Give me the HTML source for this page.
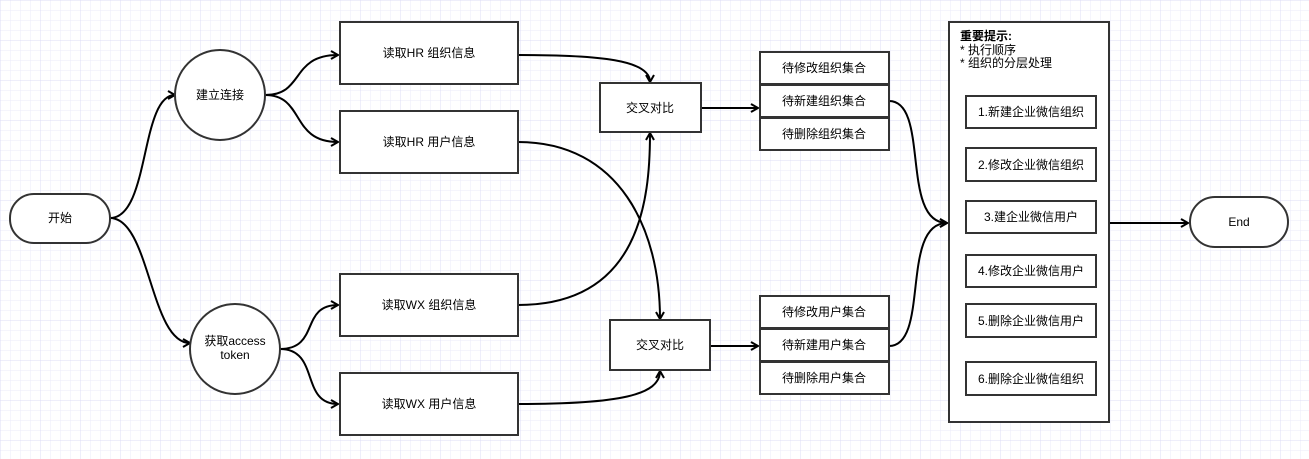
<!DOCTYPE html>
<html><head><meta charset="utf-8"><style>
html,body{margin:0;padding:0;background:#fff}
svg{display:block}
text{font-family:"Liberation Sans","Noto Sans CJK SC",sans-serif;font-size:12px;fill:#000}
</style></head><body>
<svg width="1309" height="459" viewBox="0 0 1309 459" xmlns="http://www.w3.org/2000/svg">
<defs>
<pattern id="g" width="10" height="10" patternUnits="userSpaceOnUse"><path d="M10 0H0V10" fill="none" stroke="#ebebfa" stroke-width="1"/></pattern>
<pattern id="G" width="40" height="40" patternUnits="userSpaceOnUse"><rect width="40" height="40" fill="url(#g)"/><path d="M40 0H0V40" fill="none" stroke="#dcdcf5" stroke-width="1"/></pattern>
<marker id="a" markerWidth="10" markerHeight="10" refX="8" refY="5" orient="auto" markerUnits="userSpaceOnUse"><path d="M1 1L8 5L1 9" fill="none" stroke="#000" stroke-width="2"/></marker>
</defs>
<rect width="1309" height="459" fill="url(#G)"/>
<g fill="none" stroke="#000" stroke-width="2" marker-end="url(#a)">
<path d="M110 218C150 218 140 95 175 95"/>
<path d="M110 218C150 218 150 343 190 343"/>
<path d="M265 95C305 95 290 55 338 55"/>
<path d="M265 95C305 95 290 142 338 142"/>
<path d="M280 349C320 349 300 305 338 305"/>
<path d="M280 349C320 349 300 404 338 404"/>
<path d="M518 55C600 55 650 60 650 82"/>
<path d="M518 142C620 142 660 230 660 319"/>
<path d="M518 305C640 305 650 200 650 133"/>
<path d="M518 404C620 404 660 395 660 371"/>
<path d="M701 108H758"/>
<path d="M710 346H758"/>
<path d="M889 101C930 101 900 223 947 223"/>
<path d="M889 346C930 346 900 223 947 223"/>
<path d="M1109 223H1188"/>
</g>
<g fill="#fff" stroke="#333" stroke-width="2">
<rect x="10" y="194" width="100" height="49" rx="24"/>
<circle cx="220" cy="95" r="45"/>
<circle cx="235" cy="349" r="45"/>
<rect x="340" y="22" width="178" height="62"/>
<rect x="340" y="111" width="178" height="62"/>
<rect x="340" y="274" width="178" height="62"/>
<rect x="340" y="373" width="178" height="62"/>
<rect x="600" y="83" width="101" height="49"/>
<rect x="610" y="320" width="100" height="50"/>
<rect x="760" y="52" width="129" height="32"/>
<rect x="760" y="85" width="129" height="32"/>
<rect x="760" y="118" width="129" height="32"/>
<rect x="760" y="296" width="129" height="32"/>
<rect x="760" y="329" width="129" height="32"/>
<rect x="760" y="362" width="129" height="32"/>
<rect x="949" y="22" width="160" height="400"/>
<rect x="966" y="96" width="130" height="32"/>
<rect x="966" y="148" width="130" height="33"/>
<rect x="966" y="201" width="130" height="32"/>
<rect x="966" y="255" width="130" height="32"/>
<rect x="966" y="304" width="130" height="33"/>
<rect x="966" y="362" width="130" height="33"/>
<rect x="1190" y="197" width="98" height="50" rx="25"/>
</g>
<g text-anchor="middle">
<text x="60" y="222">开始</text>
<text x="220" y="99">建立连接</text>
<text x="235" y="345">获取access</text>
<text x="235" y="359">token</text>
<text x="429" y="57">读取HR 组织信息</text>
<text x="429" y="146">读取HR 用户信息</text>
<text x="429" y="309">读取WX 组织信息</text>
<text x="429" y="408">读取WX 用户信息</text>
<text x="650" y="112">交叉对比</text>
<text x="660" y="349">交叉对比</text>
<text x="824" y="72">待修改组织集合</text>
<text x="824" y="105">待新建组织集合</text>
<text x="824" y="138">待删除组织集合</text>
<text x="824" y="316">待修改用户集合</text>
<text x="824" y="349">待新建用户集合</text>
<text x="824" y="382">待删除用户集合</text>
<text x="1031" y="116">1.新建企业微信组织</text>
<text x="1031" y="169">2.修改企业微信组织</text>
<text x="1031" y="221">3.建企业微信用户</text>
<text x="1031" y="275">4.修改企业微信用户</text>
<text x="1031" y="325">5.删除企业微信用户</text>
<text x="1031" y="383">6.删除企业微信组织</text>
<text x="1239" y="226">End</text>
</g>
<text x="960" y="40" style="font-weight:bold">重要提示:</text>
<text x="960" y="54">* 执行顺序</text>
<text x="960" y="67">* 组织的分层处理</text>
</svg>
</body></html>
